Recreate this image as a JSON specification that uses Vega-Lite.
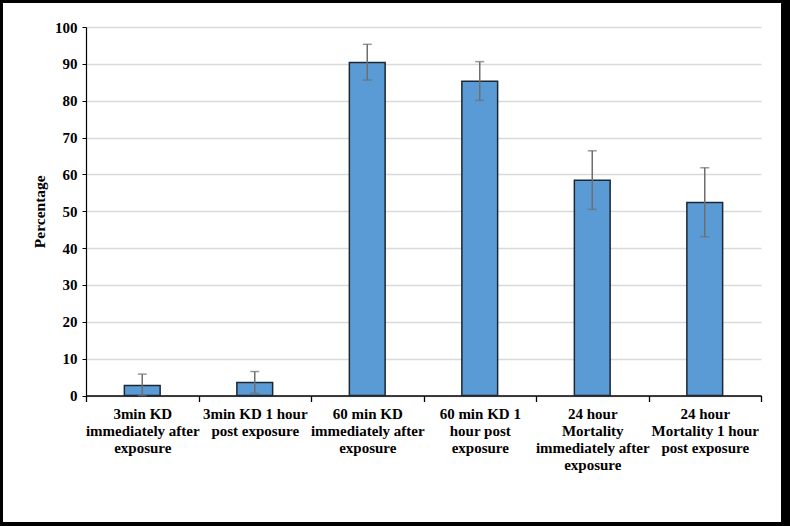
{
  "$schema": "https://vega.github.io/schema/vega-lite/v6.json",
  "width": 778,
  "height": 519,
  "autosize": {"type": "none"},
  "padding": {"left": 3, "top": 3, "right": 9, "bottom": 4},
  "background": "#000000",
  "config": {
    "view": {"fill": "#ffffff", "stroke": null},
    "font": "Liberation Serif"
  },
  "data": {
    "values": [
      {"cat": "3min KD|immediately after|exposure", "pct": 2.7, "low": 0, "high": 5.8},
      {"cat": "3min KD 1 hour|post exposure", "pct": 3.55, "low": 0.6, "high": 6.5},
      {"cat": "60 min KD|immediately after|exposure", "pct": 90.4, "low": 85.6, "high": 95.3},
      {"cat": "60 min KD 1|hour post|exposure", "pct": 85.3, "low": 80.1, "high": 90.6},
      {"cat": "24 hour|Mortality|immediately after|exposure", "pct": 58.4, "low": 50.5, "high": 66.4},
      {"cat": "24 hour|Mortality 1 hour|post exposure", "pct": 52.4, "low": 43.1, "high": 61.8}
    ]
  },
  "encoding": {
    "x": {
      "field": "cat",
      "type": "nominal",
      "sort": null,
      "scale": {"range": [83, 758], "paddingInner": 0, "paddingOuter": 0},
      "axis": {
        "title": null,
        "offset": -126.5,
        "labelAngle": 0,
        "labelExpr": "isString(datum.value) ? split(datum.value, '|') : ''",
        "labelFont": "Liberation Serif",
        "labelFontWeight": "bold",
        "labelFontSize": 15,
        "labelLineHeight": 17,
        "labelColor": "#000000",
        "labelPadding": 5,
        "labelLimit": 0,
        "labelBaseline": "top",
        "tickBand": "extent",
        "tickSize": 6,
        "tickColor": "#000000",
        "tickWidth": 1.3,
        "domainColor": "#000000",
        "domainWidth": 1.6,
        "grid": false
      }
    }
  },
  "layer": [
    {
      "mark": {"type": "bar", "width": {"band": 0.318}, "fill": "#5B9BD5", "stroke": "#1c2733", "strokeWidth": 1.5},
      "encoding": {
        "y": {
          "field": "pct",
          "type": "quantitative",
          "title": "Percentage",
          "scale": {"domain": [0, 100], "range": [392.5, 24], "nice": false, "zero": true},
          "axis": {
            "offset": -83,
            "values": [0, 10, 20, 30, 40, 50, 60, 70, 80, 90, 100],
            "labelFont": "Liberation Serif",
            "labelFontWeight": "bold",
            "labelFontSize": 15,
            "labelColor": "#000000",
            "labelPadding": 5,
            "tickSize": 4,
            "tickColor": "#000000",
            "domainColor": "#000000",
            "domainWidth": 1.2,
            "grid": true,
            "gridColor": "#d9d9d9",
            "gridWidth": 1.3,
            "titleFont": "Liberation Serif",
            "titleFontWeight": "bold",
            "titleFontSize": 15.5,
            "titleColor": "#000000",
            "titlePadding": 7
          }
        }
      }
    },
    {
      "mark": {
        "type": "errorbar",
        "ticks": {"size": 9, "thickness": 1.5, "color": "#6e6e6e"},
        "rule": {"strokeWidth": 1.5, "color": "#6e6e6e"}
      },
      "encoding": {
        "y": {"field": "low", "type": "quantitative", "title": "Percentage"},
        "y2": {"field": "high"}
      }
    }
  ]
}
